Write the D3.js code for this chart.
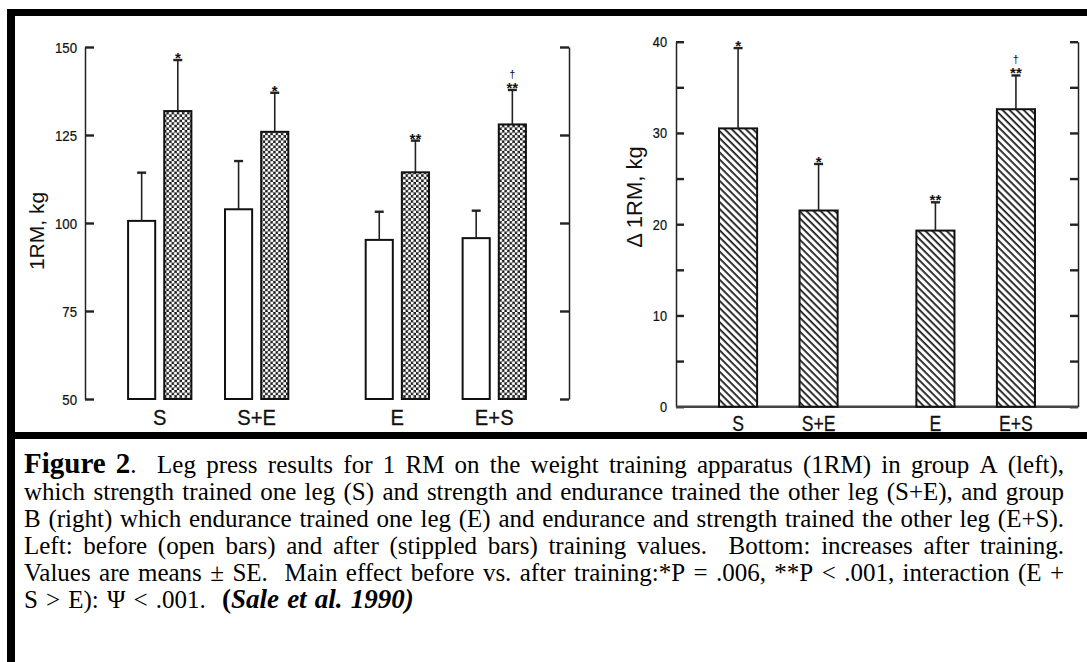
<!DOCTYPE html>
<html>
<head>
<meta charset="utf-8">
<script src="https://cdn.jsdelivr.net/npm/d3@7"></script>
<style>
  body { margin: 0; background: #fff; }
  svg { display: block; }
  .cap text { white-space: pre; }
</style>
</head>
<body>
<svg id="fig" width="1087" height="662"></svg>
<script>
// ---- data ---------------------------------------------------------------
const legs      = ["S", "S+E", "E", "E+S"];
const legGroup  = ["A", "A", "B", "B"];
const groups    = ["A", "B"];

// 1RM (kg) before and after training, mean and SE
const before    = [100.6, 103.9, 95.2, 95.7];
const beforeSE  = [13.7, 13.7, 8.0, 7.8];
const after     = [131.8, 125.9, 114.4, 128.0];
const afterSE   = [14.5, 11.1, 9.0, 9.8];
const afterStar = ["*", "*", "**", "**"];
const afterDag  = ["", "", "", "†"];

// increase in 1RM (kg), mean and SE
const delta     = [30.5, 21.5, 19.3, 32.6];
const deltaSE   = [8.8, 5.1, 3.1, 3.7];
const deltaStar = ["*", "*", "**", "**"];
const deltaDag  = ["", "", "", "†"];

const leftTicks  = [50, 75, 100, 125, 150];
const rightTicks = [0, 5, 10, 15, 20, 25, 30, 35, 40];
const rightLabelled = [0, 10, 20, 30, 40];

const captionLines = [
  [["Figure 2", "fig"], [".  Leg press results for 1 RM on the weight training apparatus (1RM) in group A (left),", "r"]],
  [["which strength trained one leg (S) and strength and endurance trained the other leg (S+E), and group", "r"]],
  [["B (right) which endurance trained one leg (E) and endurance and strength trained the other leg (E+S).", "r"]],
  [["Left: before (open bars) and after (stippled bars) training values.  Bottom: increases after training.", "r"]],
  [["Values are means \u00b1 SE.  Main effect before vs. after training:*P = .006, **P < .001, interaction (E +", "r"]],
  [["S > E): \u03a8 < .001.  ", "r"], ["(", "b"], ["Sale et al. 1990)", "bi"]]
];

// ---- setup --------------------------------------------------------------
const svg = d3.select("#fig");
const SANS = "'Liberation Sans', Arial, Helvetica, sans-serif";
const SERIF = "'Liberation Serif', 'Times New Roman', serif";
const INK = "#111";

const defs = svg.append("defs");
// stippled fill: dark field with round holes
const stip = defs.append("pattern").attr("id", "stipple")
  .attr("patternUnits", "userSpaceOnUse").attr("width", 5.2).attr("height", 5.2);
stip.append("rect").attr("width", 5.2).attr("height", 5.2).attr("fill", "#1a1a1a");
stip.append("circle").attr("cx", 1.3).attr("cy", 1.3).attr("r", 1.6).attr("fill", "#fff");
stip.append("circle").attr("cx", 3.9).attr("cy", 3.9).attr("r", 1.6).attr("fill", "#fff");
// diagonal hatching "\\\"
const HP = 5;
const hatch = defs.append("pattern").attr("id", "hatch")
  .attr("patternUnits", "userSpaceOnUse").attr("width", HP).attr("height", 10)
  .attr("patternTransform", "rotate(-45)");
hatch.append("rect").attr("width", HP).attr("height", 10).attr("fill", "#fff");
hatch.append("line").attr("x1", 1.1).attr("x2", 1.1).attr("y1", 0).attr("y2", 10)
  .attr("stroke", "#111").attr("stroke-width", 1.7);

// frame
svg.append("rect").attr("x", 7).attr("y", 9).attr("width", 1080).attr("height", 7).attr("fill", "#000");
svg.append("rect").attr("x", 7).attr("y", 9).attr("width", 8).attr("height", 653).attr("fill", "#000");
svg.append("rect").attr("x", 7).attr("y", 432).attr("width", 1080).attr("height", 7).attr("fill", "#000");

// nested band scales: group -> leg -> bar
function legScales(range) {
  const outer = d3.scaleBand(groups, range).paddingInner(0.2).paddingOuter(0.1185);
  const inner = {};
  groups.forEach(g => {
    inner[g] = d3.scaleBand(legs.filter((l, i) => legGroup[i] === g), [0, outer.bandwidth()])
      .paddingInner(0.347).paddingOuter(0.154);
  });
  const legX = i => outer(legGroup[i]) + inner[legGroup[i]](legs[i]);
  const legW = inner.A.bandwidth();
  return { legX, legW };
}

function styleAxis(g, domainW) {
  g.select(".domain").attr("stroke", "#222").attr("stroke-width", domainW);
  g.selectAll(".tick line").attr("stroke", "#222").attr("stroke-width", 2.4);
}

function addError(g, cx, y0, y1, capW) {
  g.append("line").attr("x1", cx).attr("x2", cx).attr("y1", y0).attr("y2", y1)
    .attr("stroke", "#222").attr("stroke-width", 1.6);
  g.append("line").attr("x1", cx - capW / 2).attr("x2", cx + capW / 2).attr("y1", y1).attr("y2", y1)
    .attr("stroke", "#222").attr("stroke-width", 2.4);
}

function addMarks(g, cx, yCap, star, dag) {
  if (star) g.append("text").attr("x", cx).attr("y", yCap - 2.5)
    .attr("text-anchor", "middle").attr("dominant-baseline", "central")
    .attr("font-family", SANS).attr("font-weight", "bold").attr("font-size", 15)
    .attr("fill", "#111").text(star);
  if (dag) g.append("text").attr("x", cx).attr("y", yCap - 16)
    .attr("text-anchor", "middle").attr("dominant-baseline", "central")
    .attr("font-family", SANS).attr("font-size", 11).attr("fill", "#111").text(dag);
}

function squeezedText(g, x, y, txt, size, sx, anchor) {
  g.append("text").attr("transform", `translate(${x},${y}) scale(${sx},1)`)
    .attr("text-anchor", anchor).attr("font-family", SANS).attr("font-size", size)
    .attr("fill", "#111").attr("stroke", "#111").attr("stroke-width", 0.25).text(txt);
}

// ---- left panel: before / after ---------------------------------------
const L = svg.append("g");
const yL = d3.scaleLinear([50, 150], [399, 47]);
const xL = legScales([85, 569]);
const barL = d3.scaleBand(["before", "after"], [0, xL.legW]).paddingInner(0.25).paddingOuter(0);

const axL = L.append("g").attr("transform", "translate(85,0)")
  .call(d3.axisLeft(yL).tickValues(leftTicks).tickSizeInner(-9).tickSizeOuter(0).tickFormat(""));
styleAxis(axL, 1.5);
leftTicks.forEach(t => squeezedText(L, 77, yL(t) + 5.5, String(t), 15, 0.88, "end"));

const axL2 = L.append("g").attr("transform", "translate(569,0)")
  .call(d3.axisRight(yL).tickValues(leftTicks).tickSizeInner(-9).tickSizeOuter(0).tickFormat(""));
styleAxis(axL2, 1.5);

legs.forEach((leg, i) => {
  const x0 = xL.legX(i);
  const bw = barL.bandwidth();
  // open bar (before)
  const xb = x0 + barL("before");
  L.append("rect").attr("x", xb).attr("y", yL(before[i]))
    .attr("width", bw).attr("height", yL(50) - yL(before[i]))
    .attr("fill", "#fff").attr("stroke", INK).attr("stroke-width", 2);
  addError(L, xb + bw / 2, yL(before[i]), yL(before[i] + beforeSE[i]), 9);
  // stippled bar (after)
  const xa = x0 + barL("after");
  L.append("rect").attr("x", xa).attr("y", yL(after[i]))
    .attr("width", bw).attr("height", yL(50) - yL(after[i]))
    .attr("fill", "url(#stipple)").attr("stroke", INK).attr("stroke-width", 2);
  const capA = yL(after[i] + afterSE[i]);
  addError(L, xa + bw / 2, yL(after[i]), capA, 9);
  addMarks(L, xa + bw / 2, capA, afterStar[i], afterDag[i]);
  // leg label
  squeezedText(L, x0 + xL.legW / 2, 425, leg, 22, 0.92, "middle");
});

L.append("text").attr("transform", "translate(36,231) rotate(-90)")
  .attr("text-anchor", "middle").attr("dy", "0.36em")
  .attr("font-family", SANS).attr("font-size", 21).attr("fill", "#111").text("1RM, kg");

// ---- right panel: increase --------------------------------------------
const R = svg.append("g");
const yR = d3.scaleLinear([0, 40], [406.7, 41.7]);
const xR = legScales([676, 1078]);
const barR = d3.scaleBand(["change"], [0, xR.legW]).paddingOuter(0.19);

const axR = R.append("g").attr("transform", "translate(676,0)")
  .call(d3.axisLeft(yR).tickValues(rightTicks).tickSizeInner(-8).tickSizeOuter(0).tickFormat(""));
styleAxis(axR, 1.5);
rightLabelled.forEach(t => squeezedText(R, 667, yR(t) + 5.5, String(t), 15, 0.85, "end"));

const axR2 = R.append("g").attr("transform", "translate(1078,0)")
  .call(d3.axisRight(yR).tickValues(rightTicks).tickSizeInner(-8).tickSizeOuter(0).tickFormat(""));
styleAxis(axR2, 1.5);

R.append("line").attr("x1", 676).attr("x2", 1078).attr("y1", yR(0)).attr("y2", yR(0))
  .attr("stroke", "#444").attr("stroke-width", 2.4);

legs.forEach((leg, i) => {
  const x = xR.legX(i) + barR("change");
  const bw = barR.bandwidth();
  R.append("rect").attr("x", x).attr("y", yR(delta[i]))
    .attr("width", bw).attr("height", yR(0) - yR(delta[i]))
    .attr("fill", "url(#hatch)").attr("stroke", INK).attr("stroke-width", 2);
  const cap = yR(delta[i] + deltaSE[i]);
  addError(R, x + bw / 2, yR(delta[i]), cap, 9);
  addMarks(R, x + bw / 2, cap, deltaStar[i], deltaDag[i]);
  squeezedText(R, x + bw / 2, 431, leg, 22, 0.8, "middle");
});

R.append("text").attr("transform", "translate(634,197) rotate(-90)")
  .attr("text-anchor", "middle").attr("dy", "0.36em")
  .attr("font-family", SANS).attr("font-size", 22).attr("fill", "#111").text("\u0394 1RM, kg");

// ---- caption (justified) ------------------------------------------------
const capStyle = {
  fig: { size: 29, weight: "bold", italic: false },
  r:   { size: 25, weight: "normal", italic: false },
  b:   { size: 27, weight: "bold", italic: false },
  bi:  { size: 27, weight: "bold", italic: true }
};
const C = svg.append("g").attr("class", "cap");
const capLeft = 24, capRight = 1064, capTop = 473, capStep = 27;

function tokenize(segs) {
  const words = [];
  let cur = null, pending = 0;
  segs.forEach(([t, k]) => {
    const re = /( +)|([^ ]+)/g;
    let m;
    while ((m = re.exec(t))) {
      if (m[1]) { pending += m[1].length; cur = null; }
      else {
        if (!cur) { cur = { parts: [], spaces: pending }; words.push(cur); pending = 0; }
        cur.parts.push({ t: m[2], k });
      }
    }
  });
  return words;
}

// width of a regular space
const probe = C.append("text").attr("font-family", SERIF).attr("font-size", capStyle.r.size).text("a a");
const probe2 = C.append("text").attr("font-family", SERIF).attr("font-size", capStyle.r.size).text("aa");
const spaceW = probe.node().getComputedTextLength() - probe2.node().getComputedTextLength();
probe.remove(); probe2.remove();

captionLines.forEach((segs, li) => {
  const y = capTop + li * capStep;
  const words = tokenize(segs);
  const nodes = words.map(w => {
    const t = C.append("text").attr("y", y).attr("fill", "#000").attr("font-family", SERIF);
    w.parts.forEach(p => {
      const s = capStyle[p.k];
      t.append("tspan").attr("font-size", s.size).attr("font-weight", s.weight)
        .attr("font-style", s.italic ? "italic" : "normal").text(p.t);
    });
    return { t, w: t.node().getComputedTextLength(), spaces: w.spaces };
  });
  const total = d3.sum(nodes, d => d.w);
  const units = d3.sum(nodes.slice(1), d => d.spaces);
  const last = li === captionLines.length - 1;
  const unit = last ? spaceW * 1.3 : (capRight - capLeft - total) / units;
  let x = capLeft;
  nodes.forEach((n, i) => {
    if (i > 0) x += n.spaces * unit;
    n.t.attr("x", x);
    x += n.w;
  });
});
</script>
</body>
</html>
